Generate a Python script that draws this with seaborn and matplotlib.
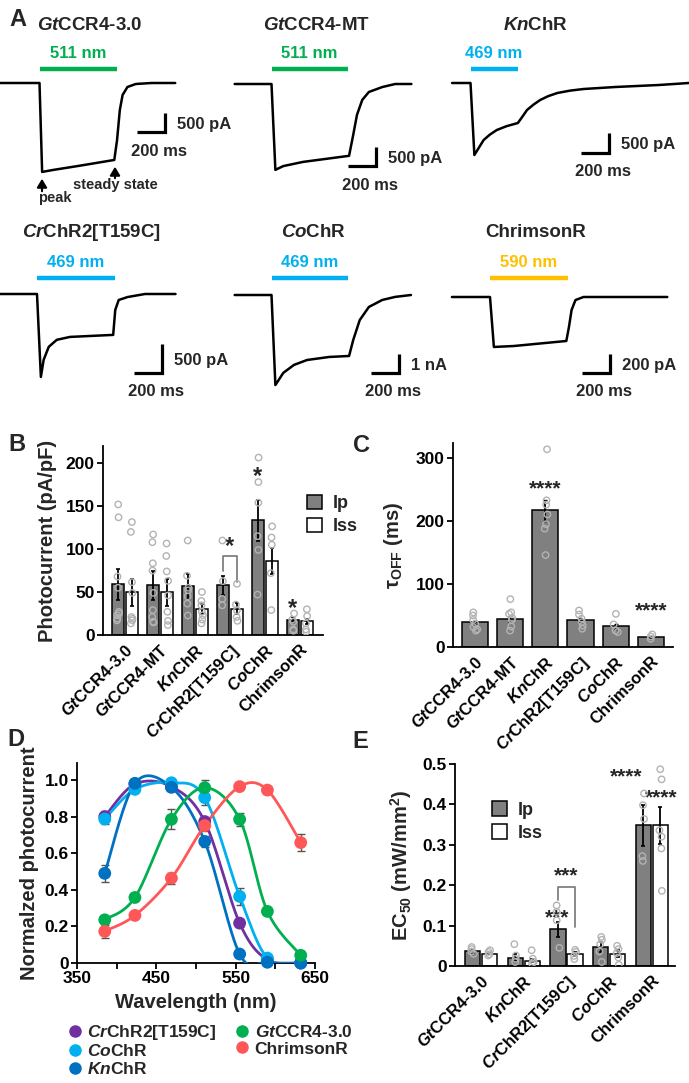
import numpy as np
import pandas as pd
import matplotlib
matplotlib.use("Agg")
import matplotlib.pyplot as plt
import seaborn as sns
from matplotlib.patches import Patch
from matplotlib.lines import Line2D

# ---------------- data ----------------
# A: example traces, time (ms) from light onset, current (pA)
trace_names = [r"$\it{Gt}$CCR4-3.0", r"$\it{Gt}$CCR4-MT", r"$\it{Kn}$ChR",
               r"$\it{Cr}$ChR2[T159C]", r"$\it{Co}$ChR", "ChrimsonR"]
light_nm = [511, 511, 469, 469, 469, 590]
light_ms = [560, 550, 340, 560, 550, 560]
scale_pa = [500, 500, 500, 500, 1000, 200]
scale_lbl = ["500 pA", "500 pA", "500 pA", "500 pA", "1 nA", "200 pA"]

gt30_t = [-285, 0, 19, 95, 285, 540, 560, 580, 600, 635, 695, 810, 980]
gt30_i = [0, 0, -2340, -2290, -2180, -2025, -1500, -710, -315, -105, -26, 0, 0]
gtmt_t = [-266, 0, 28, 85, 228, 560, 590, 617, 655, 703, 800, 893, 1010]
gtmt_i = [0, 0, -2260, -2160, -2050, -1890, -1340, -815, -420, -210, -80, 0, 0]
kn_t = [-133, 0, 28, 60, 95, 140, 190, 260, 342, 375, 408, 455, 503, 560, 627, 720, 817, 1045, 1360, 1577]
kn_i = [0, 0, -1800, -1620, -1425, -1290, -1175, -1080, -1000, -840, -675, -540, -425, -330, -250, -190, -150, -100, -50, 0]
cr_t = [-266, 0, 28, 48, 85, 143, 238, 550, 565, 590, 655, 780, 1000]
cr_i = [0, 0, -1430, -1135, -910, -790, -740, -705, -275, -103, -52, 0, 0]
co_t = [-266, 0, 28, 85, 162, 257, 418, 560, 590, 637, 703, 800, 893, 1007]
co_i = [0, 0, -4740, -4100, -3680, -3420, -3260, -3210, -2370, -1320, -630, -260, -100, 0]
chr_t = [-275, 0, 28, 171, 551, 570, 589, 617, 675, 1280]
chr_i = [0, 0, -526, -516, -463, -316, -137, -32, 0, 0]
traces_t = [gt30_t, gtmt_t, kn_t, cr_t, co_t, chr_t]
traces_i = [gt30_i, gtmt_i, kn_i, cr_i, co_i, chr_i]

# B: photocurrent density (pA/pF)
names6 = trace_names
b_ip_mean = [58.8, 57.7, 56.5, 57.7, 133.5, 18]
b_ip_sem = [17.5, 17, 14.5, 11, 23.5, 3.2]
b_iss_mean = [49.6, 49.6, 30.8, 30.8, 85.8, 16]
b_iss_sem = [15.5, 15.5, 5.8, 6, 15, 3.2]
b_ip_pts = [[152, 137, 68, 55, 27, 25, 23, 19, 17],
            [117, 108, 83.5, 75, 49, 29, 21, 15.4, 14.6],
            [110, 69, 55, 52, 45, 36.5, 22.7],
            [110, 62.7, 42, 34.6],
            [206.5, 178, 154, 115, 99, 47],
            [25, 18, 15.4, 6.5, 5]]
b_iss_pts = [[131.5, 120, 61.5, 49, 21, 19, 17, 13.5],
             [106.5, 92, 74, 63, 46, 27, 16.5, 11.5],
             [50, 39.6, 34.6, 27, 23, 18, 13.5],
             [59.6, 35.4, 28.8, 21, 16.5],
             [126.5, 113.5, 105, 72, 29],
             [30, 22, 13.5, 6.5, 3.8]]

# C: tau off (ms)
c_mean = [39, 45, 217, 43, 32.6, 15.3]
c_sem = [3, 5, 17, 3.5, 3.5, 1.5]
c_pts = [[55, 50, 43, 37, 31.6, 28, 26],
         [76, 55, 52.6, 46, 43, 32.6, 26],
         [314, 233, 226, 210.5, 195, 188, 146],
         [58, 51.6, 45, 39.5, 34, 29],
         [52.6, 36, 26, 23.7],
         [20, 16.8, 13]]

# D: action spectra
spec_nm = [385, 423, 469, 511, 555, 590, 632]
spec_names = [r"$\it{Cr}$ChR2[T159C]", r"$\it{Co}$ChR", r"$\it{Kn}$ChR",
              r"$\it{Gt}$CCR4-3.0", "ChrimsonR"]
spec_colors = ["#7030a0", "#00b0f0", "#0070c0", "#00b050", "#ff5757"]
cr_spec = [0.80, 0.978, 0.964, 0.773, 0.218, 0.018, 0.0]
co_spec = [0.787, 0.949, 0.985, 0.904, 0.364, 0.027, 0.0]
kn_spec = [0.49, 0.982, 0.96, 0.664, 0.049, 0.004, 0.0]
gt_spec = [0.236, 0.358, 0.785, 0.958, 0.785, 0.282, 0.042]
chr_spec = [0.173, 0.26, 0.464, 0.751, 0.964, 0.945, 0.658]
cr_err = [0.03, 0.01, 0.01, 0.02, 0.02, 0.005, 0]
co_err = [0.03, 0.01, 0.01, 0.04, 0.045, 0.005, 0]
kn_err = [0.045, 0.01, 0.01, 0.03, 0.01, 0, 0]
gt_err = [0.015, 0.01, 0.055, 0.04, 0.035, 0.01, 0.01]
chr_err = [0.035, 0.01, 0.03, 0.03, 0.01, 0.01, 0.045]
spec_vals = [cr_spec, co_spec, kn_spec, gt_spec, chr_spec]
spec_errs = [cr_err, co_err, kn_err, gt_err, chr_err]

# E: EC50 (mW/mm2)
names5 = [r"$\it{Gt}$CCR4-3.0", r"$\it{Kn}$ChR", r"$\it{Cr}$ChR2[T159C]",
          r"$\it{Co}$ChR", "ChrimsonR"]
e_ip_mean = [0.0364, 0.0207, 0.091, 0.048, 0.348]
e_ip_sem = [0.003, 0.0085, 0.018, 0.0125, 0.05]
e_iss_mean = [0.0306, 0.013, 0.030, 0.0306, 0.348]
e_iss_sem = [0.002, 0.004, 0.0055, 0.009, 0.046]
e_ip_pts = [[0.047, 0.042, 0.036, 0.030],
            [0.054, 0.026, 0.018, 0.010],
            [0.150, 0.134, 0.113, 0.045],
            [0.072, 0.065, 0.054, 0.036, 0.010],
            [0.427, 0.398, 0.364, 0.272, 0.260]]
e_iss_pts = [[0.039, 0.035, 0.029, 0.026],
             [0.039, 0.018, 0.010, 0.006],
             [0.040, 0.035, 0.025, 0.017],
             [0.050, 0.042, 0.032, 0.021, 0.003],
             [0.487, 0.462, 0.336, 0.320, 0.291, 0.186]]

# ---------------- style ----------------
sns.set_theme(style="ticks")
plt.rcParams["font.family"] = ["Liberation Sans", "DejaVu Sans"]
plt.rcParams["font.weight"] = "bold"
plt.rcParams["axes.labelweight"] = "bold"
plt.rcParams["mathtext.fontset"] = "custom"
plt.rcParams["mathtext.rm"] = "Liberation Sans:bold"
plt.rcParams["mathtext.it"] = "Liberation Sans:italic:bold"
plt.rcParams["mathtext.bf"] = "Liberation Sans:bold"
plt.rcParams["axes.linewidth"] = 1.3
plt.rcParams["xtick.major.width"] = 1.3
plt.rcParams["ytick.major.width"] = 1.3
plt.rcParams["xtick.color"] = "black"
plt.rcParams["ytick.color"] = "black"
plt.rcParams["axes.edgecolor"] = "black"
np.random.seed(3)

W, H = 689, 1083
fig = plt.figure(figsize=(W / 100, H / 100), dpi=100)


def fbox(x0, y0, x1, y1):
    return [x0 / W, 1 - y1 / H, (x1 - x0) / W, (y1 - y0) / H]


def ftext(x, y, s, **kw):
    fig.text(x / W, 1 - y / H, s, **kw)


# ---------------- panel A ----------------
MS_PX = 200 / 27.7
light_col = {511: "#00b050", 469: "#00b0f0", 590: "#ffc000"}
a_xon = [39.5, 271.5, 470.5, 37, 271.5, 490]
a_ybase = [83, 84, 83, 294, 295, 297]
a_barpx = [19, 19, 20, 29, 19, 19]
a_corner = [(165, 132), (376, 166), (609, 153), (162, 373), (399, 373), (610, 373)]
a_title = [(90, 25), (316, 25), (536, 25), (92, 233), (314, 233), (536, 233)]
a_light_y = [69, 69, 69, 278, 278, 278]
a_lbl_y = [54, 54, 54, 263, 263, 263]

for k in range(6):
    x_on, y_base = a_xon[k], a_ybase[k]
    pa_px = scale_pa[k] / a_barpx[k]
    ax = fig.add_axes(fbox(0, 0, W, 410))
    ax.set_xlim(-x_on * MS_PX, (W - x_on) * MS_PX)
    ax.set_ylim(-(410 - y_base) * pa_px, y_base * pa_px)
    ax.axis("off")
    ax.patch.set_alpha(0)

    def to_t(x):
        return (x - x_on) * MS_PX

    def to_i(y):
        return (y_base - y) * pa_px

    sns.lineplot(x=traces_t[k], y=traces_i[k], ax=ax, color="black", lw=1.8,
                 estimator=None, sort=False)
    col = light_col[light_nm[k]]
    ax.plot([0, light_ms[k]], [to_i(a_light_y[k])] * 2, color=col, lw=3.2,
            solid_capstyle="butt")
    ax.text(light_ms[k] / 2, to_i(a_lbl_y[k]), f"{light_nm[k]} nm", color=col,
            ha="center", va="center", fontsize=12)
    cx, cy = a_corner[k]
    tc, ic = to_t(cx), to_i(cy)
    ax.plot([tc - 200, tc, tc], [ic, ic, ic + scale_pa[k]], color="black", lw=2.3,
            solid_joinstyle="miter", solid_capstyle="butt")
    ax.text(to_t(cx + 12), to_i(cy - a_barpx[k] / 2 + 2), scale_lbl[k],
            ha="left", va="center", fontsize=12)
    ax.text(to_t(cx - 6), to_i(cy + 19), "200 ms", ha="center", va="center",
            fontsize=12)
    ftext(*a_title[k], trace_names[k], ha="center", va="center", fontsize=13.5)

# peak / steady-state marks on the first trace
for xa, y0, y1 in [(42, 194, 176), (115, 181, 164)]:
    fig.add_artist(matplotlib.patches.FancyArrowPatch(
        (xa / W, 1 - y0 / H), (xa / W, 1 - y1 / H), transform=fig.transFigure,
        arrowstyle="-|>,head_length=5,head_width=3", lw=1.5, color="black"))
ftext(55, 198, "peak", ha="center", va="center", fontsize=10.5)
ftext(115, 185, "steady state", ha="center", va="center", fontsize=10.5)

# ---------------- helpers for bar panels ----------------
gray = "#808080"
dot_col = "#b3b3b3"


def style_bar_axes(ax, names):
    sns.despine(ax=ax)
    ax.set_xlabel("")
    ax.set_xticks(range(len(names)))
    ax.set_xticklabels(names, rotation=45, ha="right", rotation_mode="anchor",
                       fontsize=12)
    ax.tick_params(axis="x", length=0, pad=5)
    ax.tick_params(axis="y", length=4, labelsize=12.5, pad=2)


def paired_bars(ax, names, ip_mean, ip_sem, iss_mean, iss_sem, ip_pts, iss_pts):
    mdf = pd.DataFrame({"name": names * 2,
                        "cond": ["Ip"] * len(names) + ["Iss"] * len(names),
                        "val": ip_mean + iss_mean})
    rows = []
    for n, a, b in zip(names, ip_pts, iss_pts):
        rows += [(n, "Ip", v) for v in a] + [(n, "Iss", v) for v in b]
    pdf = pd.DataFrame(rows, columns=["name", "cond", "val"])
    sns.barplot(data=mdf, x="name", y="val", hue="cond", order=names,
                hue_order=["Ip", "Iss"], palette={"Ip": gray, "Iss": "white"},
                edgecolor="black", linewidth=1.1, gap=0.1, errorbar=None,
                legend=False, ax=ax)
    for cont, m, s in zip(ax.containers, [ip_mean, iss_mean], [ip_sem, iss_sem]):
        xs = [p.get_x() + p.get_width() / 2 for p in cont]
        ax.errorbar(xs, m, yerr=s, fmt="none", ecolor="black", elinewidth=1.3,
                    capsize=1.5, capthick=1.2, zorder=3)
    n0 = len(ax.collections)
    sns.stripplot(data=pdf, x="name", y="val", hue="cond", order=names,
                  hue_order=["Ip", "Iss"], palette={"Ip": dot_col, "Iss": dot_col},
                  dodge=True, jitter=0.07, size=4.6, legend=False, ax=ax, zorder=4)
    for c in ax.collections[n0:]:
        c.set_facecolor("none")
        c.set_edgecolor(dot_col)
        c.set_linewidth(1.0)


def ip_iss_legend(ax, anchor):
    h = [Patch(facecolor=gray, edgecolor="black", lw=1.1),
         Patch(facecolor="white", edgecolor="black", lw=1.1)]
    ax.legend(h, ["Ip", "Iss"], loc="upper left", bbox_to_anchor=anchor,
              frameon=False, handlelength=0.85, handleheight=0.85,
              handletextpad=0.6, labelspacing=0.3, fontsize=13, borderpad=0)


def star(ax, x, y, s, size=15):
    ax.text(x, y, s, ha="center", va="center", fontsize=size, fontweight="bold")


# ---------------- panel B ----------------
axB = fig.add_axes(fbox(103, 446, 323, 635))
paired_bars(axB, names6, b_ip_mean, b_ip_sem, b_iss_mean, b_iss_sem,
            b_ip_pts, b_iss_pts)
axB.set_xlim(-0.63, 5.66)
axB.set_ylim(0, 220)
axB.set_yticks([0, 50, 100, 150, 200])
style_bar_axes(axB, names6)
axB.set_ylabel("Photocurrent (pA/pF)", fontsize=14.5, labelpad=6)
ip_iss_legend(axB, (0.885, 0.79))
axB.plot([2.8, 2.8, 3.2, 3.2], [75, 92, 92, 62], color="#808080", lw=1.3)
star(axB, 3.0, 103, "*", 17)
star(axB, 3.8, 185, "*", 17)
star(axB, 4.8, 31, "*", 17)

# ---------------- panel C ----------------
axC = fig.add_axes(fbox(453, 443, 673, 647))
sns.barplot(x=names6, y=c_mean, order=names6, color=gray, edgecolor="black",
            linewidth=1.1, width=0.74, errorbar=None, ax=axC)
axC.errorbar(range(6), c_mean, yerr=c_sem, fmt="none", ecolor="black",
             elinewidth=1.3, capsize=1.5, zorder=3)
cdf = pd.DataFrame([(n, v) for n, pts in zip(names6, c_pts) for v in pts],
                   columns=["name", "val"])
n0 = len(axC.collections)
sns.stripplot(data=cdf, x="name", y="val", order=names6, color=dot_col,
              jitter=0.07, size=4.6, ax=axC, zorder=4)
for c in axC.collections[n0:]:
    c.set_facecolor("none")
    c.set_edgecolor(dot_col)
    c.set_linewidth(1.0)
axC.set_xlim(-0.625, 5.63)
axC.set_ylim(0, 324)
axC.set_yticks([0, 100, 200, 300])
style_bar_axes(axC, names6)
axC.set_ylabel(r"τ$_{\rm OFF}$ (ms)", fontsize=14.5, labelpad=8)
star(axC, 2.0, 251, "****", 15)
star(axC, 5.0, 58, "****", 15)

# ---------------- panel D ----------------
axD = fig.add_axes(fbox(77, 763, 315, 963))


def smooth(xs, ys, n=30):
    # smoothed connector between the measured points (cubic Bezier, chart style)
    p = np.column_stack([xs, ys]).astype(float)
    pe = np.vstack([p[0], p, p[-1]])
    s = np.linspace(0, 1, n)[:, None]
    segs = []
    for k in range(len(p) - 1):
        p0, p1 = pe[k + 1], pe[k + 2]
        c1 = p0 + (pe[k + 2] - pe[k]) / 6
        c2 = p1 - (pe[k + 3] - pe[k + 1]) / 6
        segs.append((1 - s) ** 3 * p0 + 3 * (1 - s) ** 2 * s * c1
                    + 3 * (1 - s) * s ** 2 * c2 + s ** 3 * p1)
    c = np.vstack(segs)
    return c[:, 0], c[:, 1]


for name, col, vals, errs in zip(spec_names, spec_colors, spec_vals, spec_errs):
    xs, ys = smooth(spec_nm, vals)
    axD.plot(xs, ys, color=col, lw=2, zorder=3)
    axD.errorbar(spec_nm, vals, yerr=errs, fmt="none", ecolor="#555555",
                 elinewidth=1, capsize=3, capthick=1, zorder=2)
sdf = pd.DataFrame([(n, w, v) for n, vals in zip(spec_names, spec_vals)
                    for w, v in zip(spec_nm, vals)], columns=["name", "nm", "val"])
sns.scatterplot(data=sdf, x="nm", y="val", hue="name", hue_order=spec_names,
                palette=dict(zip(spec_names, spec_colors)), s=85, edgecolor="none",
                legend=False, ax=axD, zorder=4, clip_on=False)
sns.despine(ax=axD)
axD.set_xlim(350, 650)
axD.set_ylim(0, 1.093)
axD.set_xticks(range(350, 651, 50))
axD.set_xticklabels(["350", "", "450", "", "550", "", "650"])
axD.set_yticks([0, 0.2, 0.4, 0.6, 0.8, 1.0])
axD.set_yticklabels(["0", "0.2", "0.4", "0.6", "0.8", "1.0"])
axD.tick_params(axis="both", length=4, labelsize=12.5, pad=2)
axD.set_xlabel("Wavelength (nm)", fontsize=14.5, labelpad=5)
axD.set_ylabel("Normalzed photocurrent", fontsize=14.5, labelpad=4)
handles = [Line2D([], [], marker="o", ls="", color=c, markersize=8) for c in spec_colors]
fig.legend(handles, spec_names, ncol=2, loc="upper left",
           bbox_to_anchor=(56 / W, 1 - 1014 / H), frameon=False, fontsize=12.5,
           handletextpad=0.1, columnspacing=0.9, labelspacing=0.1,
           borderpad=0, handlelength=1.2)

# ---------------- panel E ----------------
axE = fig.add_axes(fbox(455, 764, 675, 966))
paired_bars(axE, names5, e_ip_mean, e_ip_sem, e_iss_mean, e_iss_sem,
            e_ip_pts, e_iss_pts)
axE.set_xlim(-0.61, 4.54)
axE.set_ylim(0, 0.5)
axE.set_yticks([0, 0.1, 0.2, 0.3, 0.4, 0.5])
axE.set_yticklabels(["0", "0.1", "0.2", "0.3", "0.4", "0.5"])
style_bar_axes(axE, names5)
axE.set_ylabel(r"EC$_{50}$ (mW/mm$^2$)", fontsize=14.5, labelpad=6)
ip_iss_legend(axE, (0.125, 0.86))
axE.plot([1.8, 1.8, 2.2, 2.2], [0.164, 0.196, 0.196, 0.097], color="#808080", lw=1.3)
star(axE, 2.0, 0.222, "***", 15)
star(axE, 1.78, 0.118, "***", 15)
star(axE, 3.4, 0.467, "****", 15)
star(axE, 4.22, 0.415, "****", 15)

# ---------------- panel letters ----------------
for lab, x, y in [("A", 18, 20), ("B", 17, 444), ("C", 362, 445),
                  ("D", 16, 740), ("E", 360, 742)]:
    ftext(x, y, lab, ha="center", va="center", fontsize=17, fontweight="bold")

fig.savefig("out.png", dpi=100)
